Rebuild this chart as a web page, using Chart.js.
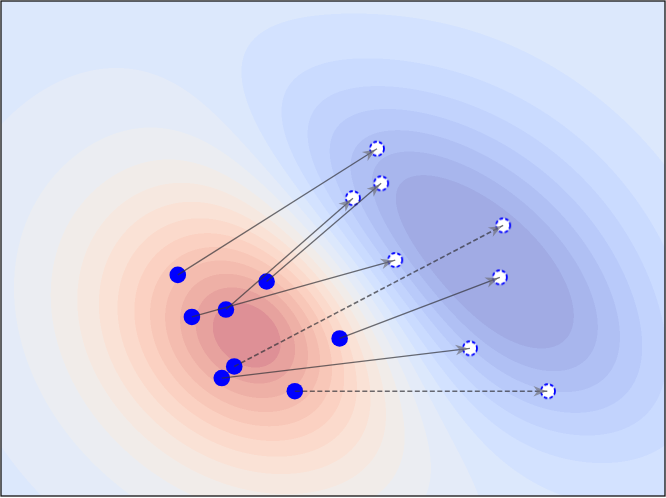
<!DOCTYPE html>
<html><head><meta charset="utf-8">
<script src="https://cdn.jsdelivr.net/npm/chart.js@4.4.1/dist/chart.umd.min.js"></script>
<style>html,body{margin:0;padding:0;background:#fff;}#wrap{width:666px;height:498px;position:relative;}</style>
</head><body><div id="wrap"><canvas id="c"></canvas></div>
<script>
// ---- data: particle start and end positions ----
const startX = [-1.87, -1.70, -1.29, -0.80, 0.08, -1.19, -1.34, -0.46];
const startY = [-0.32, -0.83, -0.74, -0.40, -1.09, -1.43, -1.57, -1.73];
const endX   = [0.53, 0.75, 0.24, 0.58, 2.01, 2.05, 1.65, 2.59];
const endY   = [1.21, -0.14, 0.61, 0.79, -0.35, 0.28, -1.21, -1.73];
const arrowDashed = [false, false, false, false, false, true, false, true];

// ---- background field: anisotropic bump components ----
const fieldCX    = [-0.97, 1.51, 1.65];
const fieldCY    = [-1.02, -0.08, -0.16];
const fieldAmp   = [1.32, -0.48, -0.46];
const fieldSU    = [1.22, 1.81, 2.05];
const fieldSV    = [0.98, 0.72, 1.48];
const fieldAngle = [-35, -40, -40];
const fieldPow   = [0.8, 1.0, 1.4];
const contourLevels = [-0.75,-0.65,-0.55,-0.45,-0.35,-0.25,-0.15,-0.05,0.05,0.15,0.25,0.35,0.45,0.55,0.65,0.75,0.85,0.95,1.05,1.15,1.25];

const coolwarm = [[59,76,192],[68,90,204],[77,104,215],[87,117,225],[98,130,234],[108,142,241],[119,154,247],[130,165,251],[141,176,254],[152,185,255],[163,194,255],[174,201,253],[184,208,249],[194,213,244],[204,217,238],[213,219,230],[221,221,221],[229,216,209],[236,211,197],[241,204,185],[245,196,173],[247,187,160],[247,177,148],[247,166,135],[244,154,123],[241,141,111],[236,127,99],[229,112,88],[222,96,77],[213,80,66],[203,62,56],[192,40,47],[180,4,38]];
function cmap(t){
  t=Math.max(0,Math.min(1,t))*(coolwarm.length-1);
  const i=Math.min(coolwarm.length-2,Math.floor(t)), f=t-i;
  const a=coolwarm[i], b=coolwarm[i+1];
  return [0,1,2].map(k=>a[k]+(b[k]-a[k])*f);
}
function field(x,y){
  let f=0;
  for(let k=0;k<fieldAmp.length;k++){
    const th=fieldAngle[k]*Math.PI/180, c=Math.cos(th), s=Math.sin(th);
    const dx=x-fieldCX[k], dy=y-fieldCY[k];
    const u=dx*c+dy*s, v=-dx*s+dy*c;
    const q=u*u/(fieldSU[k]*fieldSU[k])+v*v/(fieldSV[k]*fieldSV[k]);
    f+=fieldAmp[k]*Math.exp(-0.5*Math.pow(q,fieldPow[k]));
  }
  return f;
}

const nb=contourLevels.length-1;
const bandColors=[];
for(let i=0;i<nb;i++){
  const c=cmap((i+0.5)/nb);
  bandColors.push(c.map(v=>0.5*v+0.5*255));
}
function bandOf(f){
  if(f<contourLevels[0]) return 0;
  for(let i=0;i<nb;i++) if(f<contourLevels[i+1]) return i;
  return nb-1;
}

const contourPlugin={
  id:'contour',
  beforeDatasetsDraw(chart){
    const {ctx,chartArea:ca,scales}=chart;
    const L=Math.round(ca.left),T=Math.round(ca.top);
    const W=Math.round(ca.right)-L,H=Math.round(ca.bottom)-T;
    const img=ctx.createImageData(W,H);
    const xs=[],ys=[];
    for(let i=0;i<W*2;i++) xs.push(scales.x.getValueForPixel(L+(i+0.5)/2));
    for(let j=0;j<H*2;j++) ys.push(scales.y.getValueForPixel(T+(j+0.5)/2));
    for(let j=0;j<H;j++){
      for(let i=0;i<W;i++){
        let r=0,g=0,b=0;
        for(let sj=0;sj<2;sj++)for(let si=0;si<2;si++){
          const c=bandColors[bandOf(field(xs[2*i+si],ys[2*j+sj]))];
          r+=c[0];g+=c[1];b+=c[2];
        }
        const p=(j*W+i)*4;
        img.data[p]=r/4;img.data[p+1]=g/4;img.data[p+2]=b/4;img.data[p+3]=255;
      }
    }
    ctx.putImageData(img,L,T);
  }
};

const arrowPlugin={
  id:'arrows',
  afterDatasetsDraw(chart){
    const ctx=chart.ctx;
    chart.data.datasets.forEach((ds,i)=>{
      if(!ds.isArrow) return;
      const m=chart.getDatasetMeta(i);
      const p0=m.data[0],p1=m.data[1];
      const ang=Math.atan2(p1.y-p0.y,p1.x-p0.x);
      const tipx=p1.x-1.5*Math.cos(ang),tipy=p1.y-1.5*Math.sin(ang);
      const len=13,hw=5.3;
      ctx.save();
      ctx.translate(tipx,tipy);ctx.rotate(ang);
      ctx.beginPath();
      ctx.moveTo(0,0);ctx.lineTo(-len,-hw);ctx.lineTo(-len*0.7,0);ctx.lineTo(-len,hw);ctx.closePath();
      ctx.fillStyle='rgba(110,110,120,0.68)';
      ctx.fill();
      ctx.restore();
    });
  },
  afterDraw(chart){
    const {ctx,chartArea:ca}=chart;
    ctx.save();
    ctx.strokeStyle='#111';ctx.lineWidth=1.3;
    ctx.strokeRect(ca.left,ca.top,ca.right-ca.left,ca.bottom-ca.top);
    ctx.restore();
  }
};

// hollow dashed marker
const mk=document.createElement('canvas');mk.width=20;mk.height=20;
(function(){const c=mk.getContext('2d');c.beginPath();c.arc(10,10,7,0,Math.PI*2);c.fillStyle='#fff';c.fill();
c.setLineDash([3.6,2.2]);c.strokeStyle='#0000ff';c.lineWidth=1.8;c.stroke();})();

const datasets=[];
for(let i=0;i<startX.length;i++){
  datasets.push({isArrow:true,showLine:true,data:[{x:startX[i],y:startY[i]},{x:endX[i],y:endY[i]}],
    borderColor:'rgba(50,50,55,0.7)',borderWidth:arrowDashed[i]?1.6:1.3,borderDash:arrowDashed[i]?[5,2.5]:[],pointRadius:0,order:0});
}
datasets.push({data:endX.map((x,i)=>({x,y:endY[i]})),pointStyle:mk,pointRadius:7,order:1});
datasets.push({data:startX.map((x,i)=>({x,y:startY[i]})),pointRadius:8.3,backgroundColor:'#0000ff',borderWidth:0,order:2});

new Chart(document.getElementById('c'),{
  type:'scatter',
  data:{datasets},
  options:{responsive:true,maintainAspectRatio:false,animation:false,
    layout:{autoPadding:false,padding:{left:1,top:1,right:1,bottom:2}},
    plugins:{legend:{display:false},tooltip:{enabled:false}},
    scales:{x:{type:'linear',min:-4,max:4,display:false},y:{type:'linear',min:-3,max:3,display:false}}
  },
  plugins:[contourPlugin,arrowPlugin]
});
</script></body></html>
